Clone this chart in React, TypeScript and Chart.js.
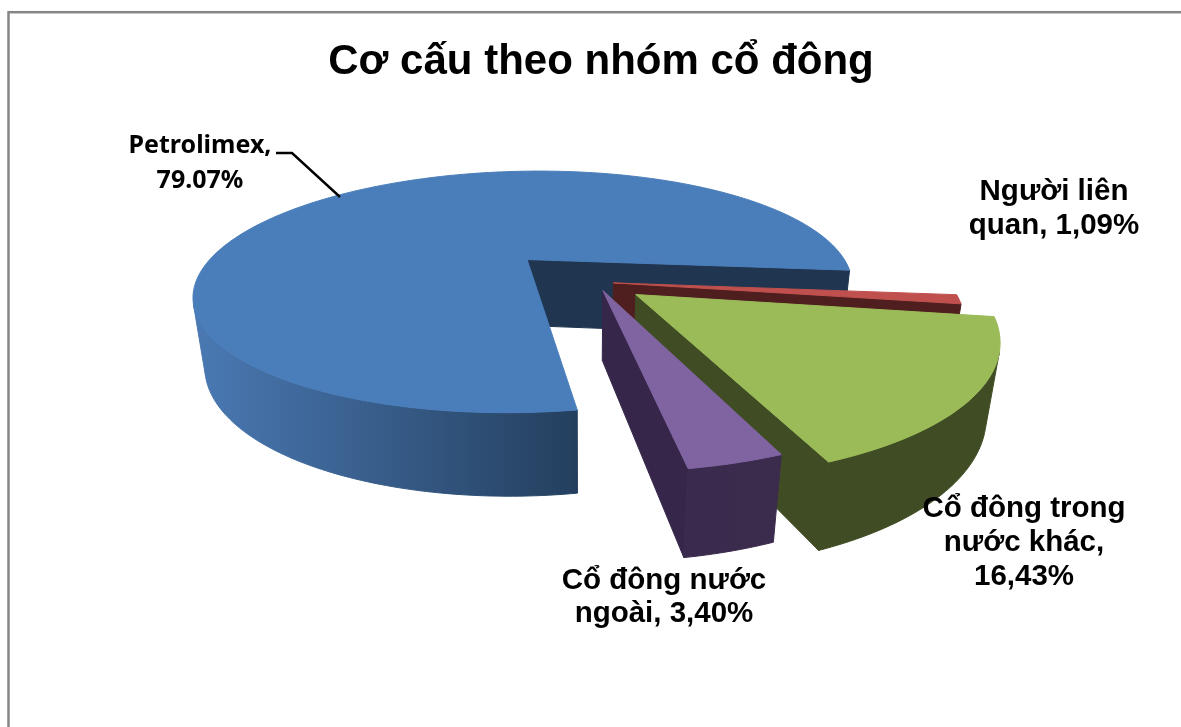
import React, { useEffect, useRef } from "react";
import { Chart, registerables } from "chart.js";

Chart.register(...registerables);

const categories = ["Petrolimex", "Người liên quan", "Cổ đông trong nước khác", "Cổ đông nước ngoài"];
const shares = [79.07, 1.09, 16.43, 3.4];
const topColors = ["#4a7ebb", "#c0504d", "#9bbb59", "#8064a2"];
const explode = [0.243, 0.09, 0.195, 0.1];
const titleText = "Cơ cấu theo nhóm cổ đông";
const labelLines = [
  ["Petrolimex,", "79.07%"],
  ["Người liên", "quan, 1,09%"],
  ["Cổ đông trong", "nước khác,", "16,43%"],
  ["Cổ đông nước", "ngoài, 3,40%"],
];

// Layout of the text and of the perspective view
const labelAnchors = [
  { x: 200, y: 153, step: 35, font: "bold 25px 'Noto Sans'" },
  { x: 1054, y: 200, step: 34, font: "bold 29.5px 'Liberation Sans'" },
  { x: 1024, y: 517, step: 34, font: "bold 29.5px 'Liberation Sans'" },
  { x: 664, y: 589, step: 33, font: "bold 29.5px 'Liberation Sans'" },
];
const VIEW = { cx: 583.5, cy: 279, rx: 332, ry: 122.8, k: 0.28, m: 0.03, depth: 70.5 };
const NUDGE = [[0, 0], [0, 0.02], [0, 0], [0.03, -0.005]];
const WALL = [
  ["#4a79b3", "#243f5e"],
  ["#4f1f1f", "#4f1f1f"],
  ["#404d24", "#404d24"],
  ["#3a2a4d", "#3b2b4c"],
];
const CUT = ["#1f3550", "#4f1f1f", "#404d24", "#35264a"];

const project = (u: number, v: number, z: number): [number, number] => {
  const w = 1 - VIEW.k * v + VIEW.m * z;
  return [VIEW.cx + (VIEW.rx * u) / w, VIEW.cy + (VIEW.ry * v + VIEW.depth * z) / w];
};

const area = (pts: [number, number][]) => {
  let s = 0;
  pts.forEach((p, i) => {
    const q = pts[(i + 1) % pts.length];
    s += p[0] * q[1] - q[0] * p[1];
  });
  return s / 2;
};

const fillPoly = (ctx: CanvasRenderingContext2D, pts: [number, number][], fill: string | CanvasGradient) => {
  ctx.beginPath();
  pts.forEach((p, i) => (i ? ctx.lineTo(p[0], p[1]) : ctx.moveTo(p[0], p[1])));
  ctx.closePath();
  ctx.fillStyle = fill;
  ctx.fill();
  ctx.strokeStyle = fill;
  ctx.lineWidth = 1;
  ctx.stroke();
};

const pie3d = {
  id: "pie3d",
  beforeDatasetsDraw(chart: any) {
    const ctx: CanvasRenderingContext2D = chart.ctx;
    const arcs = chart.getDatasetMeta(0).data;
    arcs.forEach((arc: any, i: number) => {
      const a1 = arc.startAngle;
      const a2 = arc.endAngle;
      const mid = (a1 + a2) / 2;
      const e = arc.options.offset / 100;
      const u0 = e * Math.cos(mid) + NUDGE[i][0];
      const v0 = e * Math.sin(mid) + NUDGE[i][1];
      const rim = (a: number, z: number) => project(u0 + Math.cos(a), v0 + Math.sin(a), z);
      const apexTop = project(u0, v0, 0);
      const apexBottom = project(u0, v0, 1);

      const startCut = [apexTop, rim(a1, 0), rim(a1, 1), apexBottom] as [number, number][];
      const endCut = [apexTop, rim(a2, 0), rim(a2, 1), apexBottom] as [number, number][];
      if (area(startCut) < 0) fillPoly(ctx, startCut, CUT[i]);
      if (area(endCut) > 0) fillPoly(ctx, endCut, CUT[i]);

      const steps = Math.max(8, Math.ceil(((a2 - a1) * 180) / Math.PI));
      const angles = Array.from({ length: steps + 1 }, (_, s) => a1 + ((a2 - a1) * s) / steps);
      let run: number[] = [];
      const flush = () => {
        if (run.length > 1) {
          const poly = [...run.map((a) => rim(a, 0)), ...run.slice().reverse().map((a) => rim(a, 1))];
          const xs = poly.map((p) => p[0]);
          const g = ctx.createLinearGradient(Math.min(...xs), 0, Math.max(...xs), 0);
          g.addColorStop(0, WALL[i][0]);
          g.addColorStop(1, WALL[i][1]);
          fillPoly(ctx, poly, g);
        }
        run = [];
      };
      for (let s = 0; s < steps; s++) {
        const quad = [rim(angles[s], 0), rim(angles[s + 1], 0), rim(angles[s + 1], 1), rim(angles[s], 1)] as [number, number][];
        if (area(quad) < 0) {
          if (!run.length) run.push(angles[s]);
          run.push(angles[s + 1]);
        } else flush();
      }
      flush();

      const top: [number, number][] = [apexTop, ...angles.map((a) => rim(a, 0))];
      fillPoly(ctx, top, arc.options.backgroundColor);
    });
    return false;
  },
  afterDraw(chart: any) {
    const ctx: CanvasRenderingContext2D = chart.ctx;
    ctx.save();
    ctx.strokeStyle = "#868686";
    ctx.lineWidth = 2.5;
    ctx.strokeRect(8.5, 12.2, chart.width + 20, chart.height + 20);

    ctx.strokeStyle = "#000000";
    ctx.lineWidth = 2.4;
    ctx.beginPath();
    ctx.moveTo(276, 153);
    ctx.lineTo(292, 153);
    ctx.lineTo(340, 197);
    ctx.stroke();

    ctx.fillStyle = "#000000";
    ctx.textAlign = "center";
    ctx.textBaseline = "alphabetic";
    labelLines.forEach((lines, i) => {
      const a = labelAnchors[i];
      ctx.font = a.font;
      lines.forEach((line, j) => ctx.fillText(line, a.x, a.y + j * a.step));
    });
    ctx.restore();
  },
};

const background = {
  id: "background",
  beforeDraw(chart: any) {
    chart.ctx.save();
    chart.ctx.fillStyle = "#ffffff";
    chart.ctx.fillRect(0, 0, chart.width, chart.height);
    chart.ctx.restore();
  },
};

export default function App() {
  const ref = useRef<HTMLCanvasElement>(null);
  useEffect(() => {
    const chart = new Chart(ref.current!, {
      type: "pie",
      data: {
        labels: categories,
        datasets: [
          {
            data: shares,
            backgroundColor: topColors,
            borderWidth: 0,
            offset: explode.map((e) => e * 100),
          },
        ],
      },
      options: {
        responsive: false,
        animation: false,
        devicePixelRatio: 1,
        rotation: 170.6,
        layout: { padding: { left: 21 } },
        plugins: {
          legend: { display: false },
          tooltip: { enabled: false },
          title: {
            display: true,
            text: titleText,
            color: "#000000",
            font: { family: "'Liberation Sans'", size: 42, weight: "bold" },
            padding: { top: 37, bottom: 10 },
          },
        },
      },
      plugins: [background, pie3d],
    } as any);
    return () => chart.destroy();
  }, []);
  return (
    <canvas
      ref={ref}
      width={1181}
      height={727}
      style={{ position: "fixed", left: 0, top: 0 }}
    />
  );
}
